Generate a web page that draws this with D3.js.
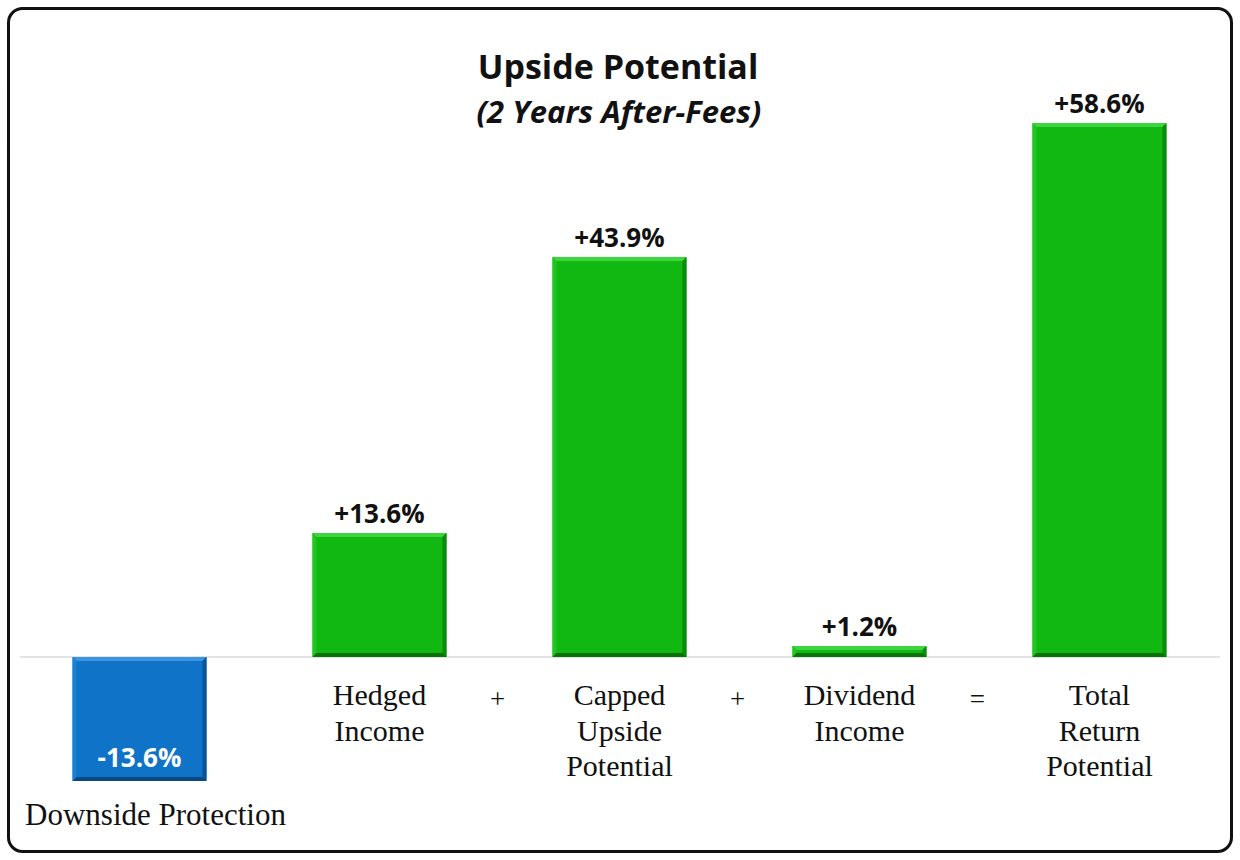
<!DOCTYPE html>
<html>
<head>
<meta charset="utf-8">
<script src="https://cdn.jsdelivr.net/npm/d3@7"></script>
<style>
  html, body { margin: 0; padding: 0; background: #fff; }
  svg { display: block; }
</style>
</head>
<body>
<svg id="chart" width="1240" height="860"></svg>
<script>
// ---- data ----
const categories = ["Downside Protection", "Hedged Income", "Capped Upside Potential", "Dividend Income", "Total Return Potential"];
const categoryLines = [["Downside Protection"], ["Hedged", "Income"], ["Capped", "Upside", "Potential"], ["Dividend", "Income"], ["Total", "Return", "Potential"]];
const values = [-13.6, 13.6, 43.9, 1.2, 58.6];
const valueLabels = ["-13.6%", "+13.6%", "+43.9%", "+1.2%", "+58.6%"];
const operators = ["+", "+", "="];
const titleText = "Upside Potential";
const subtitleText = "(2 Years After-Fees)";

const svg = d3.select("#chart");
const W = 1240, H = 860;

// frame
svg.append("rect")
  .attr("x", 8.5).attr("y", 8.5)
  .attr("width", W - 17).attr("height", H - 17)
  .attr("rx", 14).attr("ry", 14)
  .attr("fill", "#fff").attr("stroke", "#111").attr("stroke-width", 3);

// scales
const x = d3.scaleBand().domain(categories).range([19.5, 1219.5]).paddingInner(0.4417).paddingOuter(0.221);
const y = d3.scaleLinear().domain([0, 58.6]).range([657, 123]);

// baseline
svg.append("line")
  .attr("x1", 20).attr("x2", 1220)
  .attr("y1", y(0)).attr("y2", y(0))
  .attr("stroke", "#c8c8c8").attr("stroke-width", 1.2);

// bars with bevel
const palette = {
  pos: { main: "#12b812", light: "#3ed63e", lightSide: "#22c422", dark: "#0b8a0b", darkBottom: "#097309" },
  neg: { main: "#0f73c8", light: "#3a94de", lightSide: "#1a80d4", dark: "#0b5496", darkBottom: "#094880" }
};
const bev = 4;
const data = categories.map((c, i) => ({ c, v: values[i], label: valueLabels[i], lines: categoryLines[i] }));

const bars = svg.append("g").selectAll("g").data(data).join("g");
bars.each(function (d) {
  const g = d3.select(this);
  const x0 = x(d.c), x1 = x0 + x.bandwidth();
  const y0 = Math.min(y(d.v), y(0)), y1 = Math.max(y(d.v), y(0));
  const p = d.v < 0 ? palette.neg : palette.pos;
  g.append("rect").attr("x", x0).attr("y", y0).attr("width", x1 - x0).attr("height", y1 - y0).attr("fill", p.main);
  const poly = pts => g.append("polygon").attr("points", pts.map(q => q.join(",")).join(" "));
  poly([[x0, y0], [x1, y0], [x1 - bev, y0 + bev], [x0 + bev, y0 + bev]]).attr("fill", p.light);
  poly([[x0, y0], [x0 + bev, y0 + bev], [x0 + bev, y1 - bev], [x0, y1]]).attr("fill", p.lightSide);
  poly([[x1, y0], [x1, y1], [x1 - bev, y1 - bev], [x1 - bev, y0 + bev]]).attr("fill", p.dark);
  poly([[x0, y1], [x0 + bev, y1 - bev], [x1 - bev, y1 - bev], [x1, y1]]).attr("fill", p.darkBottom);
});

// value labels
svg.append("g").selectAll("text").data(data).join("text")
  .attr("x", d => x(d.c) + x.bandwidth() / 2)
  .attr("y", d => d.v < 0 ? y(d.v) - 14 : y(d.v) - 10)
  .attr("text-anchor", "middle")
  .attr("font-family", "'Open Sans', sans-serif")
  .attr("font-weight", 700)
  .attr("font-size", 26)
  .attr("fill", d => d.v < 0 ? "#fff" : "#111")
  .text(d => d.label);

// category labels
const catG = svg.append("g").selectAll("text").data(data).join("text")
  .attr("text-anchor", "middle")
  .attr("font-family", "'Liberation Serif', 'Times New Roman', serif")
  .attr("font-size", d => d.v < 0 ? 31 : 30)
  .attr("fill", "#111");
catG.each(function (d) {
  const t = d3.select(this);
  const cx = x(d.c) + x.bandwidth() / 2;
  if (d.v < 0) {
    t.append("tspan").attr("x", cx + 16).attr("y", 825).text(d.lines[0]);
  } else {
    d.lines.forEach((ln, j) => {
      t.append("tspan").attr("x", cx).attr("y", 705 + j * 35.5).text(ln);
    });
  }
});

// operators between bars
svg.append("g").selectAll("text").data(operators).join("text")
  .attr("x", (d, i) => (x(categories[i + 1]) + x(categories[i + 2]) + x.bandwidth()) / 2 - 2)
  .attr("y", 708)
  .attr("text-anchor", "middle")
  .attr("font-family", "'Liberation Serif', 'Times New Roman', serif")
  .attr("font-size", 27)
  .attr("fill", "#111")
  .text(d => d);

// titles
svg.append("text")
  .attr("x", 618).attr("y", 79)
  .attr("text-anchor", "middle")
  .attr("font-family", "'Open Sans', sans-serif")
  .attr("font-weight", 700).attr("font-size", 34)
  .attr("fill", "#111")
  .text(titleText);
svg.append("text")
  .attr("x", 619).attr("y", 123)
  .attr("text-anchor", "middle")
  .attr("font-family", "'Open Sans', sans-serif")
  .attr("font-weight", 700).attr("font-style", "italic").attr("font-size", 31)
  .attr("fill", "#111")
  .text(subtitleText);
</script>
</body>
</html>
